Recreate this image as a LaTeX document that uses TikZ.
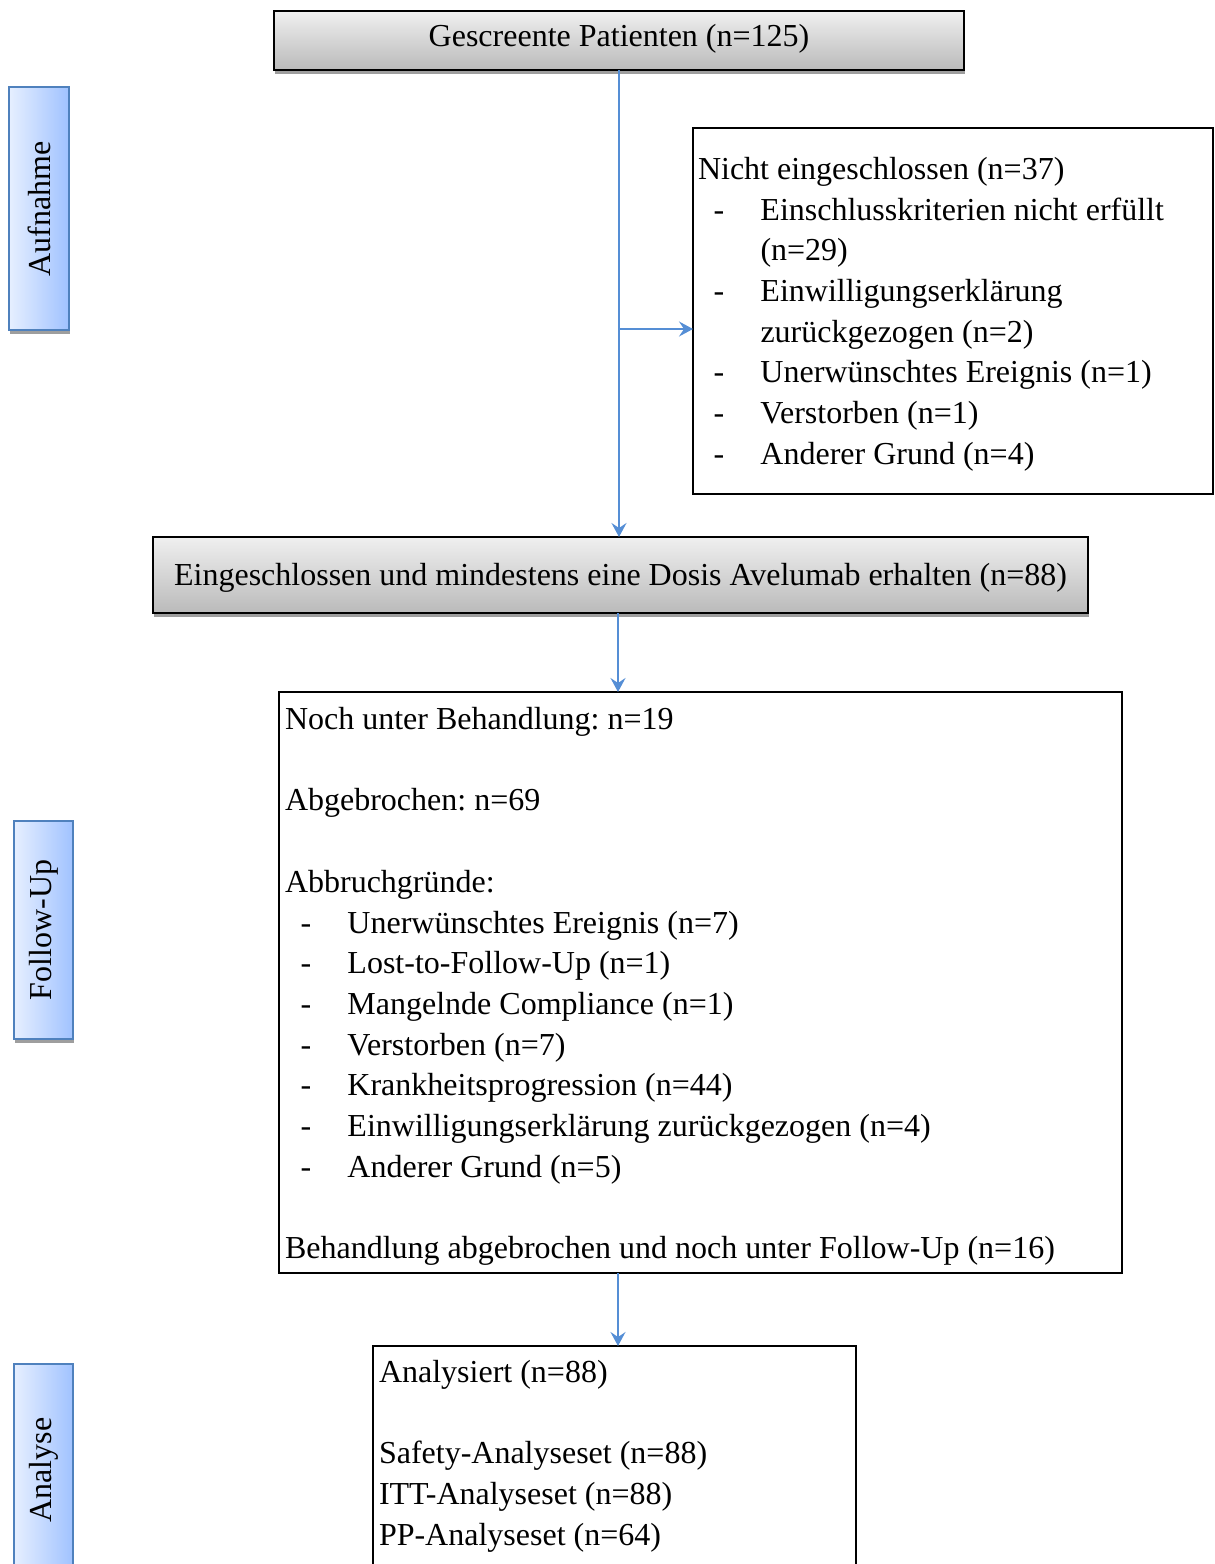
\documentclass[tikz,border=0pt]{standalone}
\usepackage{fontspec}
\setmainfont{Liberation Serif}
\usetikzlibrary{arrows.meta,shadows}
\definecolor{arrowblue}{RGB}{85,142,213}
\definecolor{sideL}{RGB}{230,239,255}
\definecolor{sideR}{RGB}{160,194,255}
\definecolor{sideB}{RGB}{79,129,189}
\newcommand\lstitem[1]{\strut\makebox[31.25pt][l]{\hspace*{7.75pt}-}#1}
\newcommand\lstcont[1]{\strut\hspace*{31.25pt}#1}
\frenchspacing
\begin{document}
\begin{tikzpicture}[x=0.5pt,y=-0.5pt,
  every node/.style={inner sep=0pt,outer sep=0pt},
  fnt/.style={font=\fontsize{16}{20.35}\selectfont\frenchspacing},
  graybox/.style={draw=black,line width=1.1pt,top color=black!6,bottom color=black!27,
    drop shadow={shadow xshift=0.5pt,shadow yshift=-2pt,fill=black!38,opacity=1},fnt},
  sidebox/.style={draw=sideB,line width=1pt,left color=sideL,right color=sideR,
    drop shadow={shadow xshift=0.5pt,shadow yshift=-2pt,fill=black!38,opacity=1},fnt},
  plainbox/.style={draw=black,line width=1pt,fill=white},
  txt/.style={fnt,anchor=north west,align=left},
  flowarrow/.style={draw=arrowblue,line width=0.65pt,-{Stealth[length=7pt,width=7.5pt,inset=2.5pt]}}]
\useasboundingbox (0,0) rectangle (1215,1564);
\clip (0,0) rectangle (1215,1564);
\fill[white] (0,0) rectangle (1215,1564);

% side labels
\node[sidebox,minimum width=29.7pt,minimum height=121.4pt] (sA) at (39,208.7) {\rotatebox{90}{Aufnahme}};
\node[sidebox,minimum width=29.5pt,minimum height=109pt] (sF) at (43.8,930) {\rotatebox{90}{Follow-Up}};
\node[sidebox,minimum width=29.5pt,minimum height=106pt] (sN) at (43.8,1470) {\rotatebox{90}{Analyse}};

% main boxes
\node[graybox,minimum width=345pt,minimum height=29.5pt,text height=11pt,text depth=5.5pt] (scr) at (619,40.5) {Gescreente Patienten (n=125)};
\node[plainbox,minimum width=260pt,minimum height=183pt] (nie) at (953,311) {};
\node[txt] (nieT) at (698,151) {Nicht eingeschlossen (n=37)\strut\\
\lstitem{Einschlusskriterien nicht erfüllt}\\
\lstcont{(n=29)}\\
\lstitem{Einwilligungserklärung}\\
\lstcont{zurückgezogen (n=2)}\\
\lstitem{Unerwünschtes Ereignis (n=1)}\\
\lstitem{Verstorben (n=1)}\\
\lstitem{Anderer Grund (n=4)}};
\node[graybox,minimum width=467.5pt,minimum height=38pt,text height=11pt,text depth=1pt] (ein) at (620.5,575) {Eingeschlossen und mindestens eine Dosis Avelumab erhalten (n=88)};
\node[plainbox,minimum width=421.5pt,minimum height=290.5pt] (fu) at (700.5,982.5) {};
\node[txt] (fuT) at (285,701) {Noch unter Behandlung: n=19\strut\\
\strut\\
Abgebrochen: n=69\strut\\
\strut\\
Abbruchgründe:\strut\\
\lstitem{Unerwünschtes Ereignis (n=7)}\\
\lstitem{Lost-to-Follow-Up (n=1)}\\
\lstitem{Mangelnde Compliance (n=1)}\\
\lstitem{Verstorben (n=7)}\\
\lstitem{Krankheitsprogression (n=44)}\\
\lstitem{Einwilligungserklärung zurückgezogen (n=4)}\\
\lstitem{Anderer Grund (n=5)}\\
\strut\\
Behandlung abgebrochen und noch unter Follow-Up (n=16)\strut};
\node[plainbox,minimum width=241.5pt,minimum height=122pt] (ana) at (614.5,1468) {};
\node[txt] (anaT) at (379,1354) {Analysiert (n=88)\strut\\
\strut\\
Safety-Analyseset (n=88)\strut\\
ITT-Analyseset (n=88)\strut\\
PP-Analyseset (n=64)\strut};

% connectors
\coordinate (br) at (620,329);
\draw[flowarrow] (scr.south) -- (scr.south |- ein.north);
\draw[flowarrow] (br) -- (br -| nie.west);
\draw[flowarrow] ([xshift=-1.25pt]ein.south) -- ([xshift=-1.25pt]ein.south |- fu.north);
\draw[flowarrow] ([xshift=1.75pt]ana.north |- fu.south) -- ([xshift=1.75pt]ana.north);
\end{tikzpicture}
\end{document}
